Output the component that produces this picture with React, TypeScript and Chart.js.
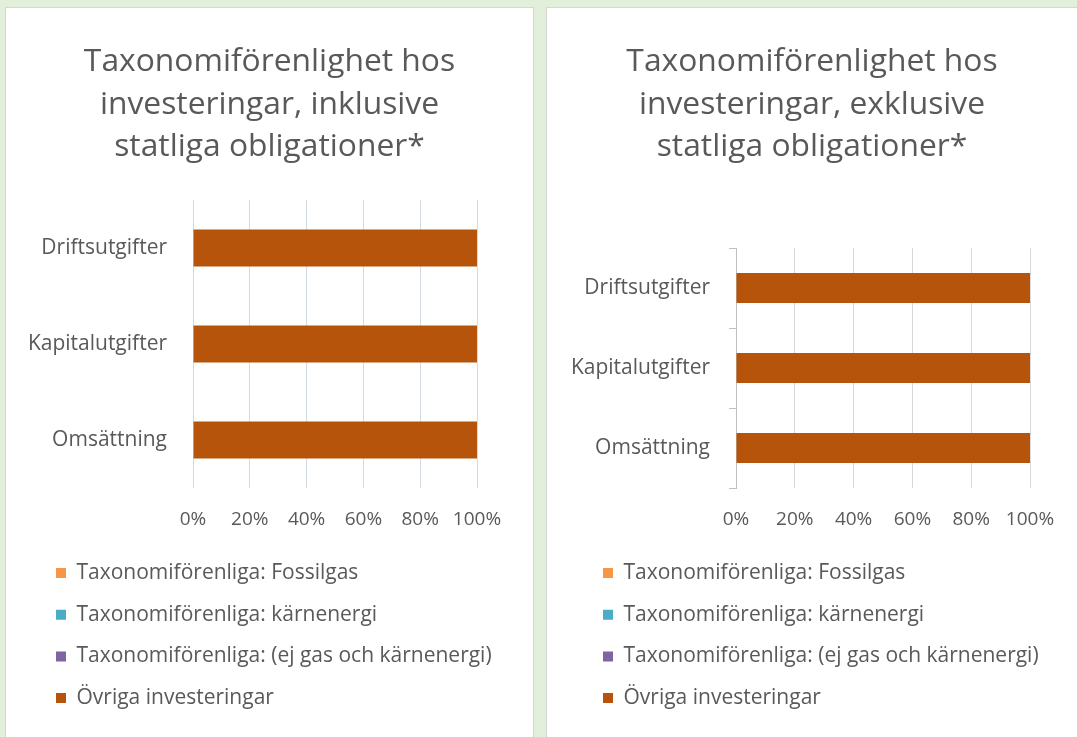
import React, { useEffect, useRef } from 'react';
import { Chart, registerables } from 'chart.js';

Chart.register(...registerables);

// ---- data ----
const categories = ['Driftsutgifter', 'Kapitalutgifter', 'Omsättning'];
const seriesNames = [
  'Taxonomiförenliga: Fossilgas',
  'Taxonomiförenliga: kärnenergi',
  'Taxonomiförenliga: (ej gas och kärnenergi)',
  'Övriga investeringar',
];
const seriesColors = ['#f79646', '#4bacc6', '#8064a2', '#b5540a'];

const inclFossilgas = [0, 0, 0];
const inclKarnenergi = [0, 0, 0];
const inclEjGasKarn = [0, 0, 0];
const inclOvriga = [100, 100, 100];

const exclFossilgas = [0, 0, 0];
const exclKarnenergi = [0, 0, 0];
const exclEjGasKarn = [0, 0, 0];
const exclOvriga = [100, 100, 100];

const xTickValues = [0, 20, 40, 60, 80, 100];
const titleIncl = ['Taxonomiförenlighet hos', 'investeringar, inklusive', 'statliga obligationer*'];
const titleExcl = ['Taxonomiförenlighet hos', 'investeringar, exklusive', 'statliga obligationer*'];

const FONT = "'Open Sans', sans-serif";
const TEXT = '#595959';

// shifts the legend horizontally after layout (keeps row spacing independent of x offset)
const legendShift = {
  id: 'legendShift',
  afterLayout(chart: any, _args: any, opts: any) {
    if (chart.legend && opts && opts.dx) {
      chart.legend.left += opts.dx;
    }
  },
};

type PanelProps = {
  left: number;
  width: number;
  title: string[];
  series: number[][];
  titlePadBottom: number;
  pad: number;
  rightGap: number;
  yWidth: number;
  legendDx: number;
  barPct: number;
  gridColor: string;
  axisLine: boolean;
};

function Panel(p: PanelProps) {
  const ref = useRef<HTMLCanvasElement>(null);
  const height = 729;
  useEffect(() => {
    if (!ref.current) return;
    const chart = new Chart(ref.current, {
      type: 'bar',
      data: {
        labels: categories,
        datasets: seriesNames.map((name, i) => ({
          label: name,
          data: p.series[i],
          backgroundColor: seriesColors[i],
          borderWidth: 0,
          barPercentage: p.barPct,
          categoryPercentage: 1,
          yAxisID: 'y',
          xAxisID: 'x',
        })),
      },
      plugins: [legendShift],
      options: {
        indexAxis: 'y',
        responsive: false,
        animation: false,
        layout: { padding: { top: 0, left: p.pad, right: p.pad, bottom: 18.4 } },
        plugins: {
          tooltip: { enabled: false },
          legendShift: { dx: p.legendDx },
          title: {
            display: true,
            text: p.title,
            color: TEXT,
            font: { family: FONT, size: 31.8, weight: 'normal', lineHeight: '42.5px' },
            padding: { top: 32.75, bottom: p.titlePadBottom },
          },
          legend: {
            display: true,
            position: 'bottom',
            align: 'start',
            labels: {
              color: TEXT,
              font: { family: FONT, size: 21 },
              boxWidth: 10,
              boxHeight: 10,
              padding: 20.7,
            },
          },
        },
        scales: {
          x: {
            stacked: true,
            min: 0,
            max: 100,
            afterBuildTicks: (scale: any) => {
              scale.ticks = xTickValues.map((v) => ({ value: v }));
            },
            afterFit: (scale: any) => {
              scale.height = 53.8;
            },
            grid: { color: p.gridColor, drawTicks: false, lineWidth: 1 },
            border: { display: false },
            ticks: {
              color: TEXT,
              font: { family: FONT, size: 19 },
              padding: 20,
              callback: (v: any) => v + '%',
            },
          },
          y: {
            stacked: true,
            position: 'left',
            afterFit: (scale: any) => {
              scale.width = p.yWidth;
            },
            grid: {
              display: p.axisLine,
              drawOnChartArea: false,
              drawTicks: p.axisLine,
              tickLength: 7,
              color: '#bfbfbf',
            },
            border: { display: p.axisLine, color: '#bfbfbf' },
            ticks: {
              color: TEXT,
              font: { family: FONT, size: 21 },
              padding: p.axisLine ? 19 : 26,
            },
          },
          yGap: {
            type: 'linear',
            axis: 'y',
            position: 'right',
            display: true,
            grid: { display: false },
            border: { display: false },
            ticks: { display: false },
            afterFit: (scale: any) => {
              scale.width = p.rightGap;
            },
          },
        },
      },
    } as any);
    return () => chart.destroy();
  }, []);
  return (
    <div
      style={{
        position: 'absolute',
        left: p.left,
        top: 8,
        width: p.width,
        height,
        background: '#ffffff',
        boxShadow: '0 0 0 1px #d6d6d6',
      }}
    >
      <canvas ref={ref} width={p.width} height={height} style={{ display: 'block' }} />
    </div>
  );
}

export default function App() {
  return (
    <div
      style={{
        position: 'fixed',
        left: 0,
        top: 0,
        width: 1077,
        height: 737,
        background: '#e2efda',
        overflow: 'hidden',
      }}
    >
      <Panel
        left={6}
        width={527}
        title={titleIncl}
        series={[inclFossilgas, inclKarnenergi, inclEjGasKarn, inclOvriga]}
        titlePadBottom={31.75}
        pad={10}
        rightGap={46}
        yWidth={177}
        legendDx={19.3}
        barPct={0.385}
        gridColor="#d3dae4"
        axisLine={false}
      />
      <Panel
        left={547}
        width={530}
        title={titleExcl}
        series={[exclFossilgas, exclKarnenergi, exclEjGasKarn, exclOvriga]}
        titlePadBottom={79.75}
        pad={10}
        rightGap={37}
        yWidth={179}
        legendDx={25.3}
        barPct={0.375}
        gridColor="#d9d9d9"
        axisLine={true}
      />
    </div>
  );
}
